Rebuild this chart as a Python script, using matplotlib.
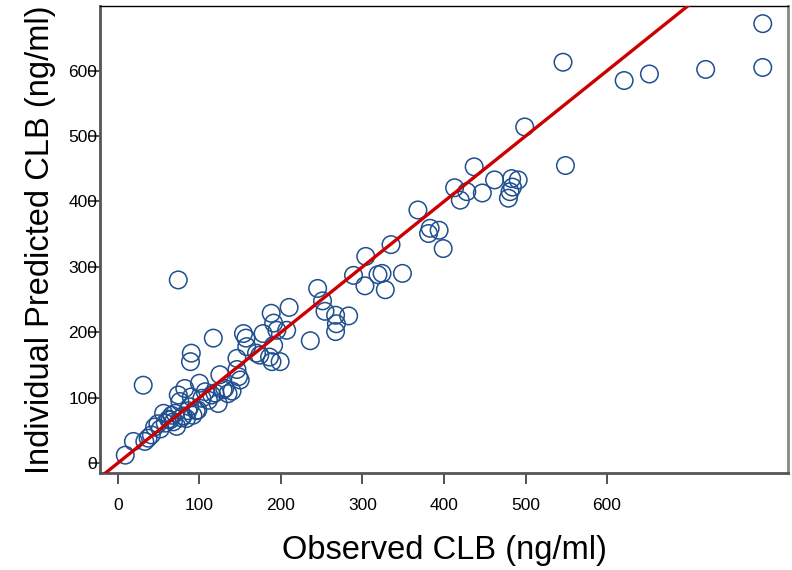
import matplotlib
matplotlib.use("Agg")
import matplotlib.pyplot as plt
import numpy as np

plt.rcParams['font.family'] = ['Liberation Sans', 'DejaVu Sans']

observed = [
    9, 19, 33, 37, 41, 45, 49, 52, 56, 58, 62, 64, 66, 68, 70, 72, 74, 76, 78, 80,
    82, 84, 86, 88, 90, 92, 96, 98, 100, 103, 107, 111, 115, 119, 123, 125, 129, 131,
    135, 140, 146, 148, 150, 31, 74, 89, 90, 117,
    154, 157, 158, 146, 170, 178, 188, 191, 195, 207, 210, 186, 191, 199, 189, 174,
    236, 245, 251, 254, 267, 268, 267, 283,
    289, 303, 304, 319, 324, 328, 335, 349, 368, 381, 383, 394, 399,
    413, 420, 428, 437, 447, 462, 479, 481, 483, 484, 491, 499,
    546, 549, 621, 652, 721, 791, 791,
]
predicted = [
    12, 33, 33, 38, 43, 55, 60, 52, 76, 61, 67, 66, 73, 63, 76, 56, 104, 94, 69, 72,
    114, 68, 80, 86, 101, 73, 80, 81, 122, 99, 109, 96, 104, 107, 91, 135, 112, 114,
    106, 110, 143, 132, 127, 119, 280, 155, 168, 191,
    198, 191, 178, 160, 168, 198, 229, 214, 203, 203, 238, 162, 180, 155, 155, 165,
    187, 267, 248, 232, 226, 213, 201, 225,
    287, 271, 316, 288, 290, 265, 334, 290, 387, 351, 359, 356, 328,
    421, 402, 415, 453, 413, 433, 405, 415, 435, 422, 433, 514,
    613, 455, 585, 595, 602, 672, 605,
]

xticks = [0, 100, 200, 300, 400, 500, 600]
yticks = [0, 100, 200, 300, 400, 500, 600]

fig = plt.figure(figsize=(7.92, 5.70), dpi=100)
ax = fig.add_axes([100/792, (570-473)/570, (788-100)/792, (473-6)/570])

ax.scatter(observed, predicted, s=17.5**2 * 0.52, facecolors='none',
           edgecolors='#1f4f8f', linewidths=1.1, zorder=3)
ax.plot([-30, 830], [-30, 830], color='#cc0000', lw=2.4, zorder=4)

ax.set_xlim(-22, 822)
ax.set_ylim(-15.3, 699)
ax.set_xticks(xticks)
ax.set_yticks(yticks)
ax.tick_params(axis='both', labelsize=12.5, color='#333333', length=8, width=1.2)
ax.tick_params(axis='y', pad=-6)
ax.tick_params(axis='x', pad=10)

for side in ['left', 'bottom']:
    ax.spines[side].set_color('#555555')
    ax.spines[side].set_linewidth(2)
ax.spines['right'].set_color('#888888')
ax.spines['right'].set_linewidth(2)
ax.spines['top'].set_color('black')
ax.spines['top'].set_linewidth(1)

ax.set_xlabel('Observed CLB (ng/ml)', fontsize=23.5, labelpad=16)
ax.set_ylabel('Individual Predicted CLB (ng/ml)', fontsize=23.5, labelpad=9)

fig.savefig('out.png', dpi=100)
